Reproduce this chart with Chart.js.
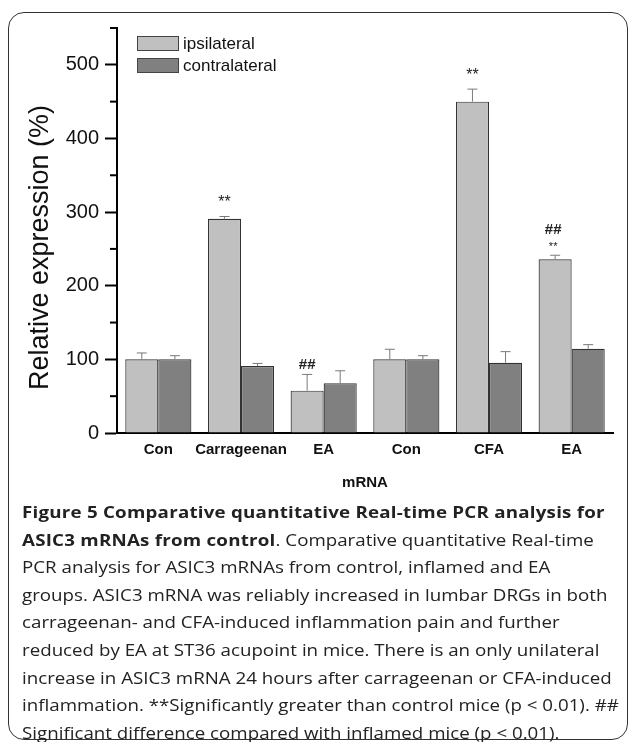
<!DOCTYPE html>
<html lang="en">
<head>
<meta charset="UTF-8">
<title>Figure 5 - ASIC3 mRNA</title>
<script src="https://cdn.jsdelivr.net/npm/chart.js"></script>
<style>
  body { margin: 0; background: #fff; }
  #wrap { position: relative; width: 629px; height: 742px; overflow: hidden; }
  #frame { position: absolute; left: 8px; top: 12px; width: 618px; height: 726px;
           border: 1.5px solid #333; border-radius: 16px; }
  #chartBox { position: absolute; left: 0; top: 0; width: 629px; height: 500px; }
  #caption { position: absolute; left: 22px; top: 498px; font-family: 'Open Sans', sans-serif;
             font-size: 16.5px; line-height: 27.6px; color: #222; white-space: nowrap;
             transform: scaleX(1.135); transform-origin: 0 0; }
  #caption b { font-weight: 700; letter-spacing: 0.2px; }
</style>
</head>
<body>
<div id="wrap">
  <div id="frame"></div>
  <div id="chartBox"><canvas id="asicChart" width="629" height="500"></canvas></div>
  <div id="caption">
    <div><b>Figure 5 Comparative quantitative Real-time PCR analysis for</b></div>
    <div><b>ASIC3 mRNAs from control</b>. Comparative quantitative Real-time</div>
    <div>PCR analysis for ASIC3 mRNAs from control, inflamed and EA</div>
    <div>groups. ASIC3 mRNA was reliably increased in lumbar DRGs in both</div>
    <div>carrageenan- and CFA-induced inflammation pain and further</div>
    <div>reduced by EA at ST36 acupoint in mice. There is an only unilateral</div>
    <div>increase in ASIC3 mRNA 24 hours after carrageenan or CFA-induced</div>
    <div>inflammation. **Significantly greater than control mice (p &lt; 0.01). ##</div>
    <div>Significant difference compared with inflamed mice (p &lt; 0.01).</div>
  </div>
</div>

<script>
    // data
    const categories = ['Con', 'Carrageenan', 'EA', 'Con', 'CFA', 'EA'];
    const ipsilateral = [100, 291, 57.5, 100, 450, 236];
    const ipsilateralErr = [8.7, 3, 22, 13.7, 17, 5.4];
    const contralateral = [100, 91, 67.5, 100, 95.5, 114.5];
    const contralateralErr = [5, 3.5, 17, 5, 15, 5.5];
    const starMarks = ['', '**', '', '', '**', '**'];   // vs control
    const hashMarks = ['', '', '##', '', '', '##'];     // vs inflamed
    const yTickLabels = [0, 100, 200, 300, 400, 500];

    const FONT = 'Arial, "Liberation Sans", sans-serif';

    // error bars, significance marks, minor ticks, legend and y title
    const extras = {
        id: 'extras',
        afterDatasetsDraw(chart) {
            const ctx = chart.ctx;
            const y = chart.scales.y;
            const errs = [ipsilateralErr, contralateralErr];
            ctx.save();
            ctx.strokeStyle = '#7a7a7a';
            ctx.lineWidth = 1;
            chart.data.datasets.forEach((ds, di) => {
                chart.getDatasetMeta(di).data.forEach((bar, i) => {
                    const top = y.getPixelForValue(ds.data[i]);
                    const hi = y.getPixelForValue(ds.data[i] + errs[di][i]);
                    ctx.beginPath();
                    ctx.moveTo(bar.x, top);
                    ctx.lineTo(bar.x, hi);
                    ctx.moveTo(bar.x - 5, hi);
                    ctx.lineTo(bar.x + 5, hi);
                    ctx.stroke();
                });
            });

            // marks above ipsilateral bars
            ctx.fillStyle = '#222';
            ctx.textAlign = 'center';
            ctx.textBaseline = 'middle';
            chart.getDatasetMeta(0).data.forEach((bar, i) => {
                const hi = y.getPixelForValue(ipsilateral[i] + ipsilateralErr[i]);
                if (starMarks[i] && hashMarks[i]) {
                    ctx.font = '11px ' + FONT;
                    ctx.fillText(starMarks[i], bar.x - 2, hi - 8);
                    ctx.font = 'bold 15px ' + FONT;
                    ctx.fillText(hashMarks[i], bar.x - 2, hi - 25);
                } else if (starMarks[i]) {
                    ctx.font = '16px ' + FONT;
                    ctx.fillText(starMarks[i], bar.x, hi - 14);
                } else if (hashMarks[i]) {
                    ctx.font = 'bold 15px ' + FONT;
                    ctx.fillText(hashMarks[i], bar.x, hi - 10);
                }
            });
            ctx.restore();
        },
        afterDraw(chart) {
            const ctx = chart.ctx;
            const y = chart.scales.y;
            const area = chart.chartArea;
            ctx.save();
            // minor ticks (every 50)
            ctx.strokeStyle = '#000';
            ctx.lineWidth = 2;
            y.ticks.forEach(t => {
                if (yTickLabels.includes(t.value)) return;
                const py = y.getPixelForValue(t.value);
                ctx.beginPath();
                ctx.moveTo(area.left - 7, py);
                ctx.lineTo(area.left, py);
                ctx.stroke();
            });

            // legend
            ctx.lineWidth = 1;
            ctx.strokeStyle = '#444';
            ctx.font = '17px ' + FONT;
            ctx.textAlign = 'left';
            ctx.textBaseline = 'middle';
            chart.data.datasets.forEach((ds, di) => {
                const bx = area.left + 20, by = area.top + 8 + di * 22;
                ctx.fillStyle = ds.backgroundColor;
                ctx.fillRect(bx, by, 42, 15);
                ctx.strokeRect(bx + 0.5, by + 0.5, 41, 14);
                ctx.fillStyle = '#111';
                ctx.fillText(ds.label, bx + 46, by + 8);
            });

            // y axis title
            ctx.translate(40.5, (area.top + area.bottom) / 2 + 17);
            ctx.rotate(-Math.PI / 2);
            ctx.textAlign = 'center';
            ctx.font = '27px ' + FONT;
            ctx.fillText('Relative expression (%)', 0, 0);
            ctx.restore();
        }
    };

    const ctx = document.getElementById('asicChart').getContext('2d');
    new Chart(ctx, {
        type: 'bar',
        data: {
            labels: categories,
            datasets: [
                {
                    label: 'ipsilateral',
                    data: ipsilateral,
                    backgroundColor: '#c0c0c0',
                    borderColor: '#333',
                    borderWidth: 1.2
                },
                {
                    label: 'contralateral',
                    data: contralateral,
                    backgroundColor: '#808080',
                    borderColor: '#333',
                    borderWidth: 1.2
                }
            ]
        },
        options: {
            responsive: false,
            animation: false,
            layout: { padding: { top: 28, right: 16, left: 0, bottom: 0 } },
            datasets: { bar: { categoryPercentage: 0.8, barPercentage: 1.0 } },
            scales: {
                x: {
                    afterFit: s => { s.height = 67; },
                    grid: { display: false, drawTicks: false },
                    border: { color: '#000', width: 2 },
                    ticks: {
                        color: '#111', padding: 8, autoSkip: false,
                        maxRotation: 0, minRotation: 0,
                        font: { family: FONT, size: 15, weight: 'bold' }
                    },
                    title: {
                        display: true, text: 'mRNA', color: '#111',
                        padding: { top: 0, bottom: 8 },
                        font: { family: FONT, size: 15, weight: 'bold' }
                    }
                },
                y: {
                    min: 0,
                    max: 550,
                    afterFit: s => { s.width = 117; },
                    grid: {
                        drawOnChartArea: false,
                        tickLength: 12,
                        tickWidth: 2,
                        tickColor: c => yTickLabels.includes(c.tick && c.tick.value) ? '#000' : 'rgba(0,0,0,0)'
                    },
                    border: { color: '#000', width: 2 },
                    ticks: {
                        stepSize: 50,
                        padding: 6,
                        color: '#111',
                        font: { family: FONT, size: 20 },
                        callback: v => yTickLabels.includes(v) ? String(v) : ''
                    }
                }
            },
            plugins: {
                legend: { display: false },
                tooltip: { enabled: false }
            }
        },
        plugins: [extras]
    });
</script>
</body>
</html>
